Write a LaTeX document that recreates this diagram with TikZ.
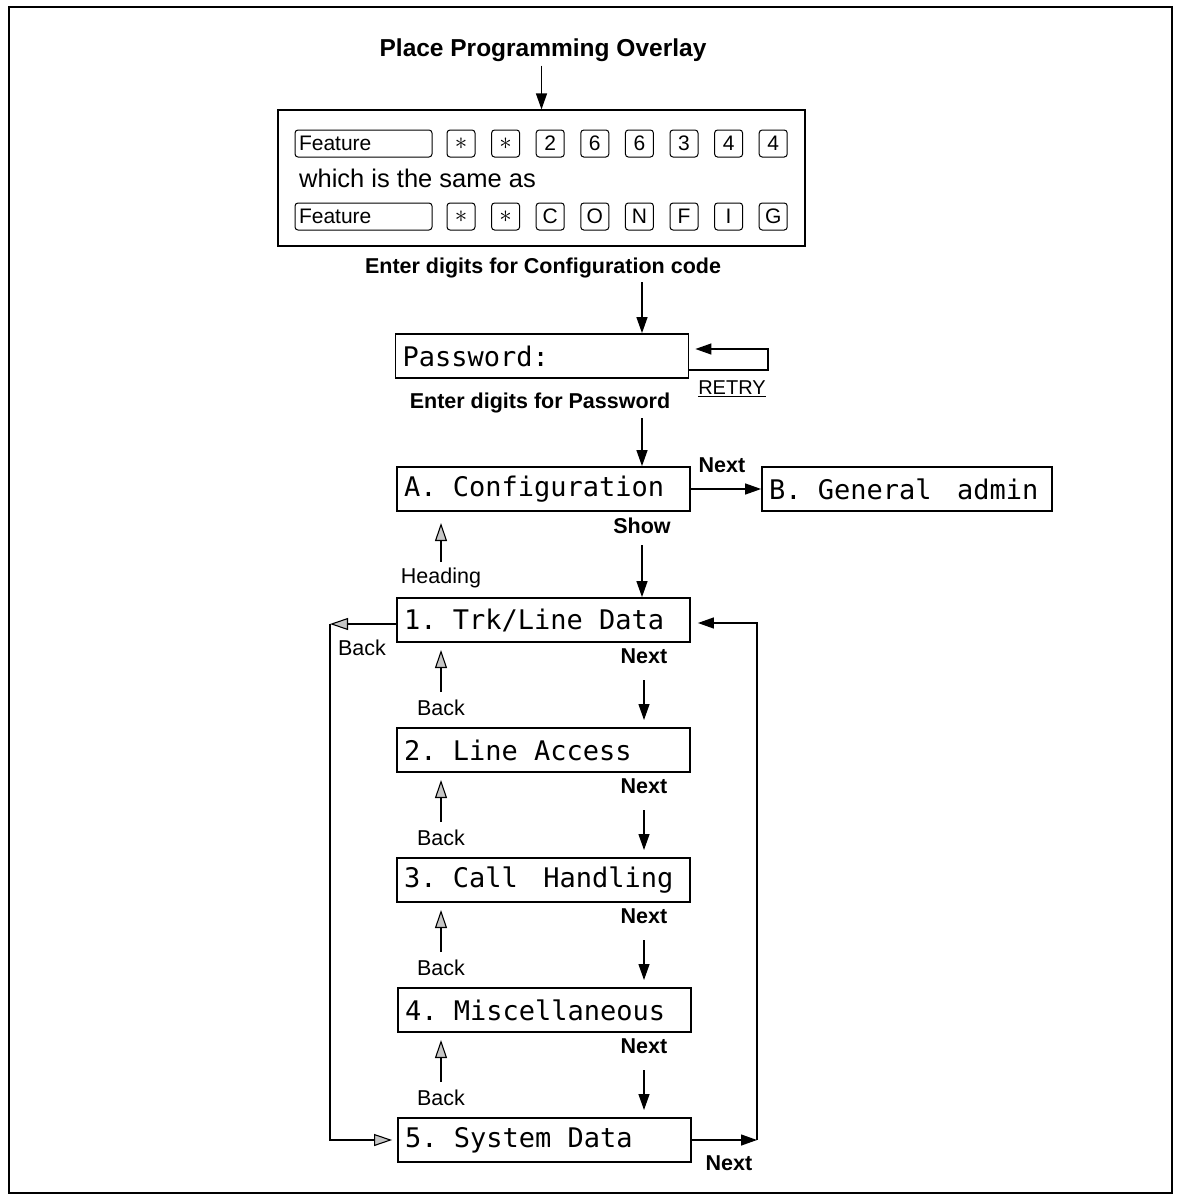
\documentclass[tikz,border=0pt]{standalone}
\usepackage{fontspec}
\setmainfont{Liberation Sans}
\newfontfamily\lcdfont{DejaVu Sans Mono}
\usetikzlibrary{arrows.meta}
\newcommand{\lsp}{\hspace*{0.602em}}
\newcommand{\lspp}{\hspace*{0.95em}}
\newcommand{\bigast}{{\fontsize{30}{30}\selectfont$\ast$}}
\begin{document}
\begin{tikzpicture}[x=1pt,y=-1pt,
 lbl/.style={font=\fontsize{21.5}{24}\selectfont\bfseries, inner sep=0pt},
 reg/.style={font=\fontsize{21.5}{24}\selectfont, inner sep=0pt},
 lcd/.style={draw, line width=1.8pt, minimum height=44pt, text width=279pt, inner xsep=7pt, inner ysep=0pt, align=left, font=\fontsize{27}{30}\lcdfont},
 key/.style={draw, line width=1pt, rounded corners=3pt, minimum width=28pt, minimum height=27pt, inner sep=0pt, font=\fontsize{21}{22}\selectfont},
 arr/.style={line width=1.3pt, -{Triangle[length=16pt,width=11pt]}},
 harr/.style={line width=1.1pt, -{Triangle[length=18pt,width=12pt,fill=gray!45]}},
 ln/.style={line width=1.3pt}
]
\useasboundingbox (0,0) rectangle (1178,1197);
\draw[line width=1.2pt] (9,7) rectangle (1172,1193);

% title and overlay
\node[lbl, font=\fontsize{24.5}{26}\selectfont\bfseries] (title) at (543,50) {Place Programming Overlay};
\node[draw, line width=1.2pt, minimum width=527pt, minimum height=136pt, inner sep=0pt] (ov) at (541.5,178) {};
\draw[arr] ([yshift=-4pt]title.south -| ov.north) -- (ov.north);

\node[key, minimum width=137pt, text width=129pt, align=left] (f1) at (363.5,143.5) {Feature};
\foreach \t [count=\i] in {\bigast,\bigast,2,6,6,3,4,4}
  \node[key] (ka\i) at ({461+44.6*(\i-1)},143.5) {\t};
\node[reg, font=\fontsize{25.5}{27}\selectfont, anchor=west] (same) at (299,178) {which is the same as};
\node[key, minimum width=137pt, text width=129pt, align=left] (f2) at (363.5,216.5) {Feature};
\foreach \t [count=\i] in {\bigast,\bigast,C,O,N,F,I,G}
  \node[key] (kb\i) at ({461+44.6*(\i-1)},216.5) {\t};

\node[lbl] (l1) at (543,268) {Enter digits for Configuration code};

% password
\node[lcd] (pw) at (542,356) {Password:};
\coordinate (x1) at (642,282);
\draw[arr] (x1) -- (x1 |- pw.north);
\coordinate (r1) at (768,370);
\coordinate (r2) at (768,349);
\draw[arr] ([yshift=-14pt]pw.east) -- (r1) -- (r2) -- ([xshift=6pt,yshift=7pt]pw.east);
\node[reg, font=\fontsize{20}{22}\selectfont] (retry) at (732,389) {\underline{RETRY}};
\node[lbl] (l2) at (540,403) {Enter digits for Password};

% A and B
\node[lcd] (A) at (543.5,489) {A.\lsp Configuration};
\node[lcd, text width=276pt] (B) at (907,489) {B.\lsp General\lspp admin};
\coordinate (x2) at (642,418);
\draw[arr] (x2) -- (x2 |- A.north);
\draw[arr] (A.east) -- (B.west);
\node[lbl] (nA) at (722,465) {Next};
\node[lbl] (show) at (642,526) {Show};
\coordinate (x3) at (642,545);
\coordinate (h1) at (441,562);
\coordinate (h2) at (441,523);
\draw[harr] (h1) -- (h2);
\node[reg] (heading) at (441,578) {Heading};

% menu boxes
\node[lcd] (b1) at (543.5,620) {1.\lsp Trk/Line\lsp Data};
\node[lcd] (b2) at (543.5,750) {2.\lsp Line\lsp Access};
\node[lcd] (b3) at (543.5,880) {3.\lsp Call\lspp Handling};
\node[lcd] (b4) at (544.5,1010) {4.\lsp Miscellaneous};
\node[lcd] (b5) at (544.5,1140) {5.\lsp System\lsp Data};
\draw[arr] (x3) -- (x3 |- b1.north);

\foreach \k/\yb in {1/642,2/772,3/902,4/1032}{
  \node[lbl] (nx\k) at (644,\yb+14) {Next};
  \coordinate (na\k) at (644,\yb+38);
  \coordinate (nb\k) at (644,\yb+78);
  \draw[arr] (na\k) -- (nb\k);
  \coordinate (ba\k) at (441,\yb+50);
  \coordinate (bb\k) at (441,\yb+8);
  \draw[harr] (ba\k) -- (bb\k);
  \node[reg] (bk\k) at (441,\yb+66) {Back};
}

% left loop
\coordinate (L1) at (330,624);
\coordinate (L2) at (330,1140);
\draw[harr] ([yshift=-4pt]b1.west) -- (L1);
\draw[harr] (L1) -- (L2) -- ([xshift=-5pt]b5.west);
\node[reg] (lback) at (362,648) {Back};

% right loop
\coordinate (R1) at (757,1140);
\coordinate (R2) at (757,623);
\draw[arr] (b5.east) -- (R1);
\draw[arr] (R1) -- (R2) -- ([xshift=7pt,yshift=-3pt]b1.east);
\node[lbl] (n5) at (729,1163) {Next};
\end{tikzpicture}
\end{document}
